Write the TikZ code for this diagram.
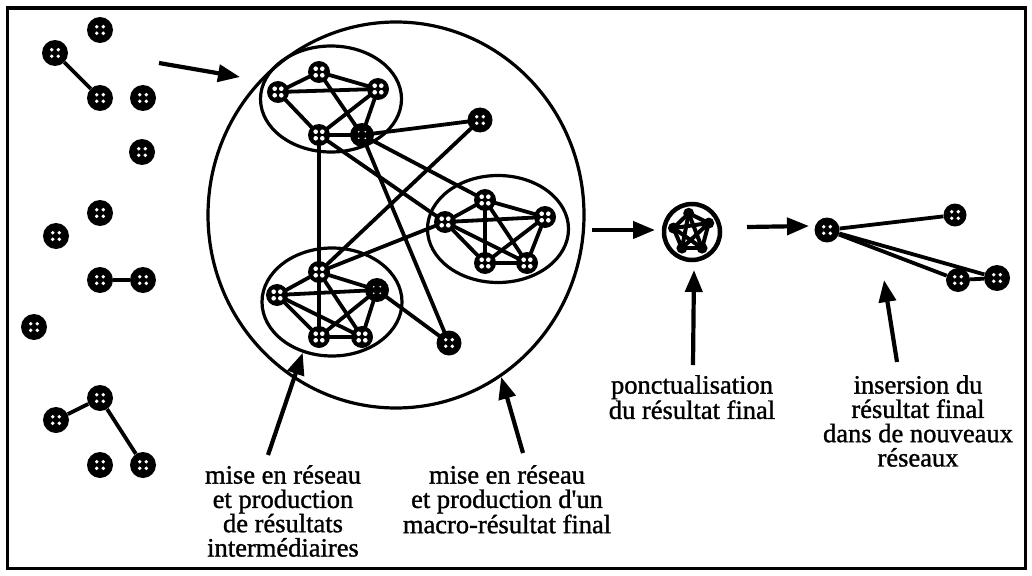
\documentclass[tikz,border=0pt]{standalone}
\usepackage{fontspec}
\setmainfont{Liberation Serif}
\newfontfamily\labfont{Liberation Serif}[FakeBold=1.2]
\usetikzlibrary{arrows.meta,shapes.geometric,calc}
\tikzset{
  dotpat/.style={path picture={
    \foreach \dx/\dy in {3.3/3.3,-3.3/3.3,3.3/-3.3,-3.3/-3.3}
      \fill[white] ([shift={(\dx pt,\dy pt)}]path picture bounding box.center) circle[radius=#1];}},
  nd/.style={circle, fill=black, inner sep=0pt, minimum size=#1, dotpat=1.9pt},
  nd/.default=26pt,
  cn/.style={circle, fill=black, inner sep=0pt, minimum size=22pt, dotpat=2.3pt},
  dk/.style={circle, fill=black, inner sep=0pt, minimum size=24pt, dotpat=0.9pt},
  edge/.style={line width=3.8pt},
  ring/.style={draw, ellipse, line width=3.2pt, inner sep=0pt},
  arr/.style={line width=4.2pt, -{Triangle[length=22pt,width=17pt]}},
  lab/.style={align=center, inner sep=0pt, anchor=north, font=\labfont\fontsize{26.5}{24.3}\selectfont},
}
\begin{document}
\begin{tikzpicture}[x=1pt,y=-1pt]
\useasboundingbox (0,0) rectangle (1032,575);
\draw[line width=3.6pt] (7.5,8) rectangle (1025.5,568.5);

% big circle and cluster rings
\node[ring, minimum width=376pt, minimum height=386pt] (Big) at (396,215) {};
\node[ring, minimum width=141pt, minimum height=106pt] (EA) at (331,99) {};
\node[ring, minimum width=140pt, minimum height=108pt] (EB) at (332,302) {};
\node[ring, minimum width=141pt, minimum height=107pt] (EC) at (498,229) {};

% left scattered nodes
\node[nd] (L1) at (100,30) {};
\node[nd] (L2) at (55,53) {};
\node[nd] (L3) at (100,98) {};
\node[nd] (L4) at (143,98) {};
\node[nd] (L5) at (142,152) {};
\node[nd] (L6) at (100,213) {};
\node[nd] (L7) at (56,236) {};
\node[nd] (L8) at (100,280) {};
\node[nd] (L9) at (143,280) {};
\node[nd] (L10) at (34,327) {};
\node[nd] (L11) at (100,398) {};
\node[nd] (L12) at (56,420) {};
\node[nd] (L13) at (100,465) {};
\node[nd] (L14) at (143,465) {};
\draw[edge] (L2) -- (L3);
\draw[edge] (L8) -- (L9);
\draw[edge] (L12) -- (L11);
\draw[edge] (L11) -- (L14);

% cluster A
\coordinate (a1) at (278,92);
\coordinate (a2) at (319,72);
\coordinate (a3) at (378,89);
\coordinate (a4) at (319,135);
\coordinate (a5) at (362,135);
% cluster B
\coordinate (b1) at (319,272);
\coordinate (b2) at (277,295);
\coordinate (b3) at (377,290);
\coordinate (b4) at (319,337);
\coordinate (b5) at (362,337);
% cluster C
\coordinate (c1) at (485,200);
\coordinate (c2) at (445,222);
\coordinate (c3) at (545,217);
\coordinate (c4) at (485,263);
\coordinate (c5) at (527,263);
\coordinate (o1) at (480,120);
\coordinate (o2) at (449,343);

\foreach \p/\q in {a1/a2,a2/a3,a1/a3,a1/a4,a3/a4,a2/a5,a3/a5,a4/a5,
  b1/b2,b1/b3,b2/b3,b2/b4,b2/b5,b1/b4,b1/b5,b3/b4,b3/b5,b4/b5,
  c1/c2,c1/c3,c2/c3,c2/c4,c2/c5,c1/c4,c1/c5,c3/c4,c3/c5,c4/c5,
  a5/o1,o1/b1,a4/b1,a4/c2,a5/c1,a5/o2,b1/c2,b3/o2}
  \draw[edge] (\p) -- (\q);

\foreach \n in {a1,a2,a3,a4,b1,b2,b4,b5,c1,c2,c3,c4,c5}
  \node[cn] (N\n) at (\n) {};
\node[dk] (Na5) at (a5) {};
\node[dk] (Nb3) at (b3) {};
\node[nd=25pt] (No1) at (o1) {};
\node[nd=25pt] (No2) at (o2) {};

% punctualised result
\node[circle, draw, line width=4.5pt, minimum size=56pt, inner sep=0pt] (P) at (692,232) {};
\foreach \i/\ang in {1/100,2/168,3/238,4/302,5/28}
  \coordinate (p\i) at ($(692,232)+(\ang:19pt)$);
\foreach \p/\q in {p1/p2,p2/p3,p3/p4,p4/p5,p5/p1,p1/p3,p1/p4,p2/p4,p2/p5,p3/p5}
  \draw[line width=4pt] (\p) -- (\q);
\foreach \i in {1,...,5}
  \fill (p\i) circle[radius=5.5pt];

% new networks
\node[nd=25pt] (D0) at (827,230) {};
\node[nd=23pt] (D1) at (955,215) {};
\node[nd=24pt] (D2) at (958,280) {};
\node[nd=26pt] (D3) at (997,278) {};
\draw[edge] (D0) -- (D1);
\draw[edge] (D0) -- (D2);
\draw[edge] (D0) -- (D3);
\draw[edge] (D2) -- (D3);

% arrows
\coordinate (inS) at (159,63);
\coordinate (inE) at (240,77);
\draw[arr] (inS) -- (inE);
\coordinate (r1S) at (592,230);
\coordinate (r1E) at (655,230);
\draw[arr] (r1S) -- (r1E);
\coordinate (r2S) at (747,227);
\coordinate (r2E) at (809,226);
\draw[arr] (r2S) -- (r2E);

% labels
\node[lab] (labL) at (283,465) {mise en réseau\\et production\\de résultats\\intermédiaires};
\node[lab] (labR) at (507,465) {mise en réseau\\et production d\textquotesingle un\\macro-résultat final};
\node[lab] (labP) at (692,375) {ponctualisation\\du résultat final};
\node[lab] (labI) at (918,375) {insersion du\\résultat final\\dans de nouveaux\\réseaux};

\coordinate (lLS) at (268,455);
\draw[arr] (lLS) -- (EB.240);
\coordinate (lRS) at (523,453);
\draw[arr] (lRS) -- (Big.303);
\coordinate (lPS) at (693,365);
\coordinate (lPE) at (694,270);
\draw[arr] (lPS) -- (lPE);
\coordinate (lIS) at (897,362);
\coordinate (lIE) at (884,280);
\draw[arr] (lIS) -- (lIE);
\end{tikzpicture}
\end{document}
